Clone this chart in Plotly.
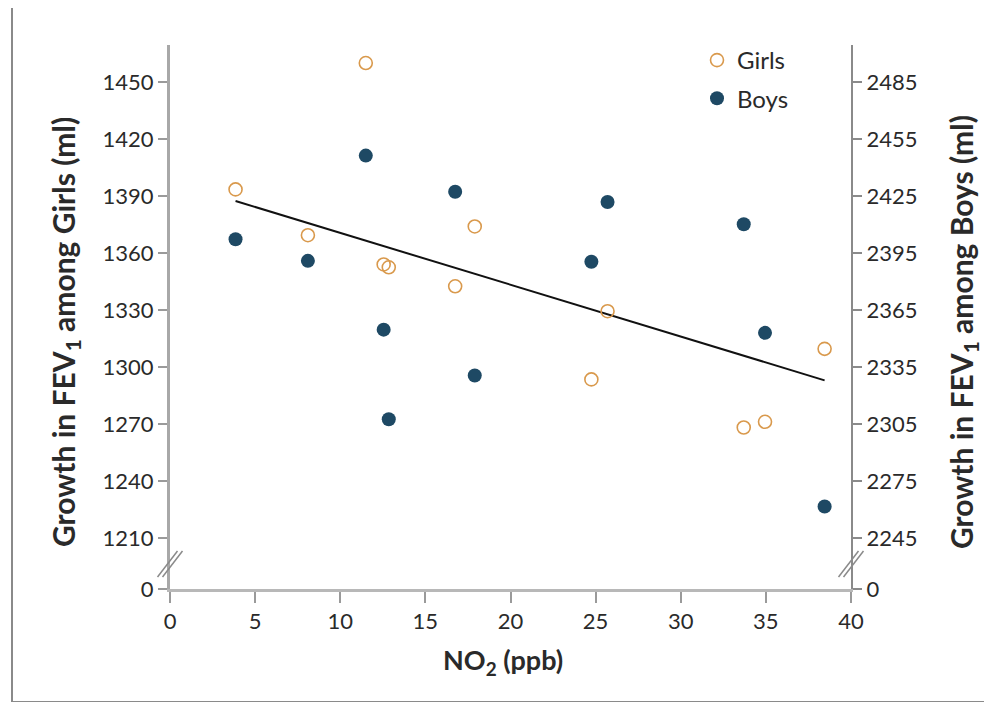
import plotly.graph_objects as go

# ---- data ----
no2_ppb = [3.85, 8.1, 11.5, 12.55, 12.85, 16.75, 17.9, 24.75, 25.7, 33.7, 34.95, 38.45]
girls_growth = [1393.5, 1369.4, 1460.0, 1354.0, 1352.5, 1342.5, 1374.0, 1293.5, 1329.4, 1268.2, 1271.2, 1309.6]
boys_growth = [2402.3, 2390.9, 2446.3, 2354.7, 2307.5, 2427.3, 2330.6, 2390.4, 2421.9, 2410.2, 2353.0, 2261.6]
fit_x = [3.85, 38.45]
fit_girls = [1387.4, 1293.0]

x_ticks = [0, 5, 10, 15, 20, 25, 30, 35, 40]
girls_ticks = [1210, 1240, 1270, 1300, 1330, 1360, 1390, 1420, 1450]
boys_ticks = [2245, 2275, 2305, 2335, 2365, 2395, 2425, 2455, 2485]

# ---- layout constants (reference pixel coords; page body adds 8px offset) ----
OFF = 8
W, H = 992 - 2 * OFF, 710 - 2 * OFF
PL, PR, PT, PB = 170, 851, 45, 589          # plot area in reference pixels
L, T = PL - OFF, PT - OFF
R, B = W - (PR - OFF), H - (PB - OFF)
pw, ph = PR - PL, PB - PT
offset = boys_ticks[0] - girls_ticks[0]
y_bot, y_top = 1183.2, 1469.5

FONT = "Lato"
TXT = "#2a2a2a"
GIRL_C = "#d9994c"
BOY_C = "#1e4964"

def px(xr):
    return (xr - PL) / pw

def py(yr):
    return (PB - yr) / ph

fig = go.Figure()
fig.add_trace(go.Scatter(
    x=fit_x, y=fit_girls, mode="lines", line=dict(color="#111111", width=2),
    showlegend=False, hoverinfo="skip"))
fig.add_trace(go.Scatter(
    x=no2_ppb, y=girls_growth, mode="markers", name="Girls", legendgroup="g",
    marker=dict(symbol="circle-open", size=13, color=GIRL_C, line=dict(width=1.6, color=GIRL_C))))
fig.add_trace(go.Scatter(
    x=no2_ppb, y=boys_growth, mode="markers", name="Boys", yaxis="y2", legendgroup="b",
    marker=dict(symbol="circle", size=14, color=BOY_C)))

shapes = [
    dict(type="rect", xref="paper", yref="paper", x0=px(12), x1=px(1010), y0=py(702), y1=py(5),
         line=dict(color="#8a8a8a", width=2), layer="below"),
]
for cx in (PL, PR):
    for d in (-2.5, 2.5):
        shapes.append(dict(type="line", xref="paper", yref="paper",
                           x0=px(cx - 10 + d), y0=py(577), x1=px(cx + 10 + d), y1=py(551),
                           line=dict(color="#8a8a8a", width=1.5)))

TF = 30
annotations = [
    dict(text="<b>Growth in FEV<sub>1</sub> among Girls (ml)</b>", xref="paper", yref="paper",
         x=px(65), y=py(332), xanchor="center", yanchor="middle", textangle=-90, showarrow=False,
         font=dict(family=FONT, size=TF, color=TXT)),
    dict(text="<b>Growth in FEV<sub>1</sub> among Boys (ml)</b>", xref="paper", yref="paper",
         x=px(963), y=py(332), xanchor="center", yanchor="middle", textangle=-90, showarrow=False,
         font=dict(family=FONT, size=TF, color=TXT)),
    dict(text="<b>NO<sub>2</sub> (ppb)</b>", xref="paper", yref="paper",
         x=px(503), y=py(661), xanchor="center", yanchor="middle", showarrow=False,
         font=dict(family=FONT, size=27, color=TXT)),
]

TK = 22
fig.update_layout(
    width=W, height=H,
    margin=dict(l=L, r=R, t=T, b=B, pad=0),
    paper_bgcolor="white", plot_bgcolor="white",
    font=dict(family=FONT, size=TK, color=TXT),
    xaxis=dict(range=[0, 40], tickvals=x_ticks, ticks="outside", ticklen=11, tickwidth=2,
               tickcolor="#9a9a9a", showline=True, linecolor="#b8b8b8", linewidth=3,
               showgrid=False, zeroline=False, tickfont=dict(size=TK)),
    yaxis=dict(range=[y_bot, y_top], tickvals=[y_bot] + girls_ticks,
               ticktext=["0"] + [str(v) for v in girls_ticks],
               ticks="outside", ticklen=9, tickwidth=2, tickcolor="#9a9a9a",
               showline=True, linecolor="#a8a8a8", linewidth=3,
               showgrid=False, zeroline=False, tickfont=dict(size=TK)),
    yaxis2=dict(range=[y_bot + offset, y_top + offset], overlaying="y", side="right",
                tickvals=[y_bot + offset] + boys_ticks,
                ticktext=["0"] + [str(v) for v in boys_ticks],
                ticks="outside", ticklen=9, tickwidth=2, tickcolor="#8a8a8a",
                showline=True, linecolor="#8a8a8a", linewidth=2,
                showgrid=False, zeroline=False, tickfont=dict(size=TK)),
    legend=dict(x=px(697), y=py(38), xanchor="left", yanchor="top", bgcolor="rgba(0,0,0,0)",
                font=dict(family=FONT, size=24, color=TXT), tracegroupgap=4),
    shapes=shapes, annotations=annotations,
)

fig.write_html("out.html")
